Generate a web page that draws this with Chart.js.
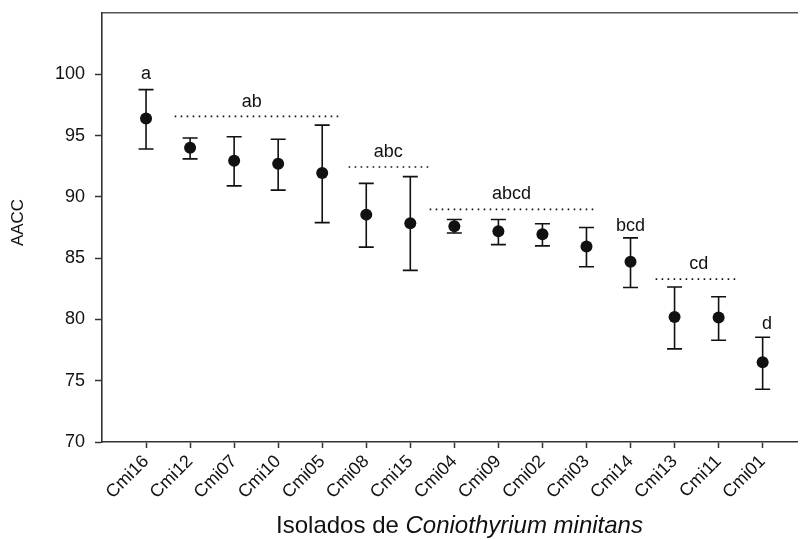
<!DOCTYPE html>
<html>
<head>
<meta charset="utf-8">
<script src="https://cdn.jsdelivr.net/npm/chart.js@4.4.1/dist/chart.umd.min.js"></script>
<style>
    html, body { margin: 0; padding: 0; background: #fff; }
    #wrap { width: 803px; height: 540px; position: relative; }
</style>
</head>
<body>
<div id="wrap"><canvas id="graph"></canvas></div>
<script>
// isolats, dans l'ordre du graphique
const isolats = ['Cmi16', 'Cmi12', 'Cmi07', 'Cmi10', 'Cmi05', 'Cmi08', 'Cmi15', 'Cmi04',
                 'Cmi09', 'Cmi02', 'Cmi03', 'Cmi14', 'Cmi13', 'Cmi11', 'Cmi01'];
const moyennes = [96.4, 94.0, 92.95, 92.7, 91.95, 88.55, 87.85, 87.6, 87.2, 86.95, 85.95, 84.7, 80.2, 80.15, 76.5];
const bornesHautes = [98.75, 94.8, 94.9, 94.7, 95.85, 91.1, 91.65, 88.15, 88.15, 87.8, 87.5, 86.65, 82.65, 81.85, 78.55];
const bornesBasses = [93.9, 93.1, 90.9, 90.55, 87.9, 85.9, 84.0, 87.05, 86.1, 86.0, 84.3, 82.6, 77.6, 78.3, 74.3];
const ticksY = [70, 75, 80, 85, 90, 95, 100];

// lettres de groupes (Tukey) et lignes pointillées
const lettres = ['a', 'ab', 'abc', 'abcd', 'bcd', 'cd', 'd'];
const lettresX = [1, 3.4, 6.5, 9.3, 12, 13.55, 15.1];
const lettresY = [100, 97.75, 93.65, 90.2, 87.65, 84.55, 79.6];
const groupesDebut = [1.65, 5.6, 7.44, 12.57];
const groupesFin = [5.42, 7.47, 11.2, 14.47];
const groupesNiveau = [96.57, 92.43, 88.98, 83.29];

const POLICE = '"Liberation Sans", Arial, Helvetica, sans-serif';
const NOIR = '#111';
const AXE = '#333';

const barresErreur = {
    id: 'barresErreur',
    beforeDatasetsDraw(chart) {
        const ctx = chart.ctx;
        const x = chart.scales.x;
        const y = chart.scales.y;
        ctx.save();
        ctx.strokeStyle = NOIR;
        ctx.lineWidth = 1.6;
        isolats.forEach((nom, i) => {
            const px = x.getPixelForValue(i + 1);
            const haut = y.getPixelForValue(bornesHautes[i]);
            const bas = y.getPixelForValue(bornesBasses[i]);
            ctx.beginPath();
            ctx.moveTo(px, haut);
            ctx.lineTo(px, bas);
            ctx.moveTo(px - 7.5, haut);
            ctx.lineTo(px + 7.5, haut);
            ctx.moveTo(px - 7.5, bas);
            ctx.lineTo(px + 7.5, bas);
            ctx.stroke();
        });
        ctx.restore();
    }
};

const textes = {
    id: 'textes',
    afterDraw(chart) {
        const ctx = chart.ctx;
        const x = chart.scales.x;
        const y = chart.scales.y;
        const zone = chart.chartArea;
        ctx.save();
        ctx.fillStyle = NOIR;

        // lettres au-dessus des points
        ctx.font = '18px ' + POLICE;
        ctx.textAlign = 'center';
        ctx.textBaseline = 'middle';
        lettres.forEach((l, i) => {
            ctx.fillText(l, x.getPixelForValue(lettresX[i]), y.getPixelForValue(lettresY[i]));
        });

        // titre axe X, nom d'espèce en italique
        const partie1 = 'Isolados de ';
        const partie2 = 'Coniothyrium minitans';
        const normal = '24px ' + POLICE;
        const italique = 'italic 24px ' + POLICE;
        ctx.font = normal;
        const l1 = ctx.measureText(partie1).width;
        ctx.font = italique;
        const l2 = ctx.measureText(partie2).width;
        const centre = (zone.left + zone.right) / 2 + 10;
        const debut = centre - (l1 + l2) / 2;
        ctx.textAlign = 'left';
        ctx.textBaseline = 'alphabetic';
        ctx.font = normal;
        ctx.fillText(partie1, debut, zone.bottom + 91);
        ctx.font = italique;
        ctx.fillText(partie2, debut + l1, zone.bottom + 91);

        // titre axe Y
        ctx.translate(18.5, (zone.top + zone.bottom) / 2 - 5);
        ctx.rotate(-Math.PI / 2);
        ctx.font = '17px ' + POLICE;
        ctx.textAlign = 'center';
        ctx.textBaseline = 'middle';
        ctx.fillText('AACC', 0, 0);
        ctx.restore();
    }
};

const datasets = [{
    type: 'scatter',
    data: moyennes.map((v, i) => ({ x: i + 1, y: v })),
    pointRadius: 6,
    pointBackgroundColor: NOIR,
    pointBorderWidth: 0,
    showLine: false
}];

groupesNiveau.forEach((niv, i) => {
    datasets.push({
        type: 'line',
        data: [{ x: groupesDebut[i], y: niv }, { x: groupesFin[i], y: niv }],
        borderColor: NOIR,
        borderWidth: 1.6,
        borderDash: [1.6, 4.4],
        pointRadius: 0,
        fill: false
    });
});

new Chart(document.getElementById('graph'), {
    type: 'scatter',
    data: { datasets: datasets },
    options: {
        responsive: true,
        maintainAspectRatio: false,
        animation: false,
        layout: { padding: { top: 13, left: 0, right: 0, bottom: 0 } },
        scales: {
            x: {
                type: 'linear',
                position: 'bottom',
                min: 0,
                max: 15.78,
                afterBuildTicks: (scale) => {
                    scale.ticks = isolats.map((_, i) => ({ value: i + 1 }));
                },
                afterFit: (scale) => {
                    scale.height = 98;
                    scale.paddingLeft = 0;
                    scale.paddingRight = 0;
                },
                ticks: {
                    autoSkip: false,
                    minRotation: 45,
                    maxRotation: 45,
                    padding: 3,
                    color: NOIR,
                    font: { family: POLICE, size: 18 },
                    callback: (v) => isolats[v - 1] || ''
                },
                grid: { drawOnChartArea: false, tickLength: 6, tickColor: AXE, tickWidth: 1.5 },
                border: { display: true, color: AXE, width: 1.6 }
            },
            haut: {
                type: 'linear',
                position: 'top',
                min: 0,
                max: 15.78,
                afterFit: (scale) => {
                    scale.height = 0;
                    scale.paddingLeft = 0;
                    scale.paddingRight = 0;
                },
                ticks: { display: false },
                grid: { display: false },
                border: { display: true, color: '#555', width: 1.6 }
            },
            y: {
                min: 70,
                max: 105,
                afterBuildTicks: (scale) => {
                    scale.ticks = ticksY.map(v => ({ value: v }));
                },
                afterFit: (scale) => {
                    scale.width = 102;
                    scale.paddingTop = 0;
                    scale.paddingBottom = 0;
                },
                ticks: {
                    padding: 10,
                    color: NOIR,
                    font: { family: POLICE, size: 18 }
                },
                grid: { drawOnChartArea: false, tickLength: 7, tickColor: AXE, tickWidth: 1.5 },
                border: { display: true, color: AXE, width: 1.6 }
            }
        },
        plugins: {
            legend: { display: false },
            tooltip: { enabled: false }
        }
    },
    plugins: [barresErreur, textes]
});
</script>
</body>
</html>
